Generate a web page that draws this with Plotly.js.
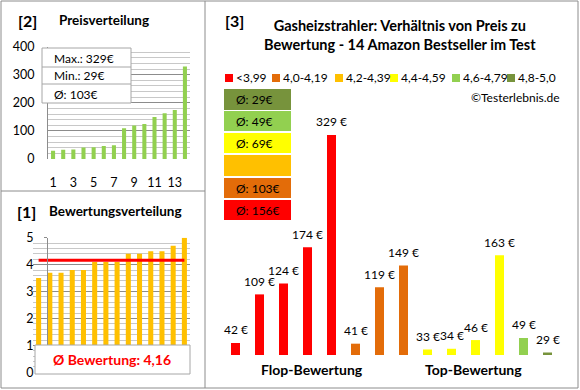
<!DOCTYPE html>
<html><head><meta charset="utf-8">
<script src="https://cdn.plot.ly/plotly-3.0.1.min.js"></script>
<style>html,body{margin:0;padding:0;background:#fff}#c{width:580px;height:390px}</style>
</head><body><div id="c"></div>
<script>
// ---- data ----
const rankIdx = [1,2,3,4,5,6,7,8,9,10,11,12,13,14];
const pricesSorted = [29,33,34,41,42,46,49,109,119,124,149,163,174,329];
const ratingsSorted = [3.5,3.7,3.7,3.8,3.8,4.1,4.1,4.1,4.4,4.4,4.5,4.5,4.7,5.0];
const productPrices = [42,109,124,174,329,41,119,149,33,34,46,163,49,29];
const productClass = [0,0,0,0,0,1,1,1,3,3,3,3,4,5];
const classLabels = ['<3,99','4,0-4,19','4,2-4,39','4,4-4,59','4,6-4,79','4,8-5,0'];
const classColors = ['#FF0000','#E36C09','#FFC000','#FFFF00','#92D050','#77933C'];
const groupLabels = ['Flop-Bewertung','Top-Bewertung'];
const titleText = 'Gasheizstrahler: Verhältnis von Preis zu<br>Bewertung - 14 Amazon Bestseller im Test';

// ---- helpers ----
const W=580,H=390;
const px=x=>x/W, py=y=>1-y/H;
const F='Lato, "Open Sans", sans-serif';
const TXT='#000';
const avg=a=>a.reduce((s,v)=>s+v,0)/a.length;

const shapes=[], ann=[];
function rect(x0,y0,x1,y1,fill,line,layer){shapes.push({type:'rect',xref:'paper',yref:'paper',x0:px(x0),x1:px(x1),y0:py(y1),y1:py(y0),fillcolor:fill||'rgba(0,0,0,0)',line:{color:line||'rgba(0,0,0,0)',width:line?1:0},layer:layer||'above'});}
function lineP(x0,y0,x1,y1,c,w){shapes.push({type:'line',xref:'paper',yref:'paper',x0:px(x0),x1:px(x1),y0:py(y0),y1:py(y1),line:{color:c,width:w},layer:'above'});}
function text(t,x,y,opts){ann.push(Object.assign({text:t,xref:'paper',yref:'paper',x:px(x),y:py(y),showarrow:false,xanchor:'left',yanchor:'middle',font:{family:F,size:12,color:TXT}},opts||{}));}

// frame
rect(1,1,578,388,null,'#8c8c8c');
lineP(205,1,205,388,'#8c8c8c',1);
lineP(1,191,205,191,'#8c8c8c',1);

// top-left titles
text('[2]',16,20,{font:{family:F,size:16,color:TXT,weight:'bold'}});
text('Preisverteilung',57,20,{font:{family:F,size:13.5,color:TXT,weight:'bold'}});
// stats box
rect(42,48,131,103,'#fff','#a6a6a6');
lineP(42,67,131,67,'#a6a6a6',1);
lineP(42,84,131,84,'#a6a6a6',1);
const pMax=Math.max(...pricesSorted), pMin=Math.min(...pricesSorted), pAvg=Math.round(avg(pricesSorted));
text('Max.: '+pMax+'€',52,58);
text('Min.: '+pMin+'€',52,76);
text('Ø: '+pAvg+'€',52,94);

// bottom-left titles
text('[1]',15,211,{font:{family:F,size:16,color:TXT,weight:'bold'}});
text('Bewertungsverteilung',47,211,{font:{family:F,size:13.5,color:TXT,weight:'bold'}});
const rAvg=avg(ratingsSorted);
rect(35,345,190,374,'#fff','#a6a6a6');
text('Ø Bewertung: '+rAvg.toFixed(2).replace('.',','),112,359,{xanchor:'center',font:{family:F,size:14,color:'#FF0000',weight:'bold'}});

// right titles
text('[3]',223,20,{font:{family:F,size:16,color:TXT,weight:'bold'}});
text(titleText,400,35,{xanchor:'center',align:'center',font:{family:F,size:14.5,color:TXT,weight:'bold'}});
text('©Testerlebnis.de',562,97,{xanchor:'right'});
const legX=[225,272,335,390,452,507];
classLabels.forEach((l,i)=>{rect(legX[i],74,legX[i]+8,82,classColors[i]);text(l,legX[i]+9,78);});
// class average boxes
const boxY=[[89,110],[111,131],[133,153],[155,176],[178,198],[200,220]];
for(let k=0;k<6;k++){
  const c=5-k;
  const vals=productPrices.filter((v,i)=>productClass[i]===c);
  rect(224,boxY[k][0],291,boxY[k][1],classColors[c]);
  if(vals.length) text('Ø: '+Math.round(avg(vals))+'€',234,(boxY[k][0]+boxY[k][1])/2);
}
text(groupLabels[0],312,369,{xanchor:'center',font:{family:F,size:14,color:TXT,weight:'bold'}});
text(groupLabels[1],473,369,{xanchor:'center',font:{family:F,size:14,color:TXT,weight:'bold'}});

// value labels
productPrices.forEach((v,i)=>ann.push({text:v+' €',x:i,y:v,xref:'x3',yref:'y3',yshift:13,showarrow:false,xanchor:'center',yanchor:'middle',font:{family:F,size:12,color:TXT}}));

const traces=[
 {type:'bar',x:rankIdx,y:pricesSorted,xaxis:'x',yaxis:'y',marker:{color:'#92D050'},width:0.4,hoverinfo:'none'},
 {type:'bar',x:rankIdx,y:ratingsSorted,xaxis:'x2',yaxis:'y2',marker:{color:'#FFC000'},width:0.45,hoverinfo:'none'},
 {type:'scatter',mode:'lines',x:[rankIdx[0],rankIdx[rankIdx.length-1]],y:[rAvg,rAvg],xaxis:'x2',yaxis:'y2',line:{color:'#FF0000',width:3},hoverinfo:'none'},
 {type:'bar',x:productPrices.map((v,i)=>i),y:productPrices,xaxis:'x3',yaxis:'y3',marker:{color:productClass.map(c=>classColors[c])},width:0.375,hoverinfo:'none'}
];
const tf={family:F,size:12.5,color:TXT};
const layout={
 width:580,height:390,margin:{l:0,r:0,t:0,b:0},paper_bgcolor:'#fff',plot_bgcolor:'#fff',showlegend:false,
 font:{family:F},
 xaxis:{domain:[px(48),px(190)],range:[0.5,14.5],tickvals:[1,3,5,7,9,11,13],showgrid:false,zeroline:false,showline:false,ticks:'',tickfont:tf,ticklabelstandoff:14,fixedrange:true},
 yaxis:{domain:[py(159),py(46.5)],range:[0,400],dtick:100,gridcolor:'#8c8c8c',zeroline:false,showline:true,linecolor:'#8c8c8c',tickfont:tf,ticklabelstandoff:10,minor:{dtick:20,showgrid:true,gridcolor:'#c8c8c8'},fixedrange:true},
 xaxis2:{domain:[px(33),px(190)],range:[0.5,14.5],showticklabels:false,showgrid:false,zeroline:false,showline:false,ticks:'',fixedrange:true},
 yaxis2:{domain:[py(372.3),py(237.7)],range:[0,5],dtick:1,gridcolor:'#8c8c8c',zeroline:false,showline:true,linecolor:'#8c8c8c',ticks:'outside',ticklen:3,tickcolor:'#8c8c8c',tickfont:tf,ticklabelstandoff:8,minor:{dtick:0.2,showgrid:true,gridcolor:'#c8c8c8'},fixedrange:true},
 xaxis3:{domain:[px(223.5),px(559.5)],range:[-0.5,13.5],visible:false,fixedrange:true},
 yaxis3:{domain:[py(355),py(60)],range:[25.4,432.3],visible:false,fixedrange:true},
 shapes:shapes,annotations:ann
};
Plotly.newPlot('c',traces,layout,{staticPlot:true});
</script></body></html>
